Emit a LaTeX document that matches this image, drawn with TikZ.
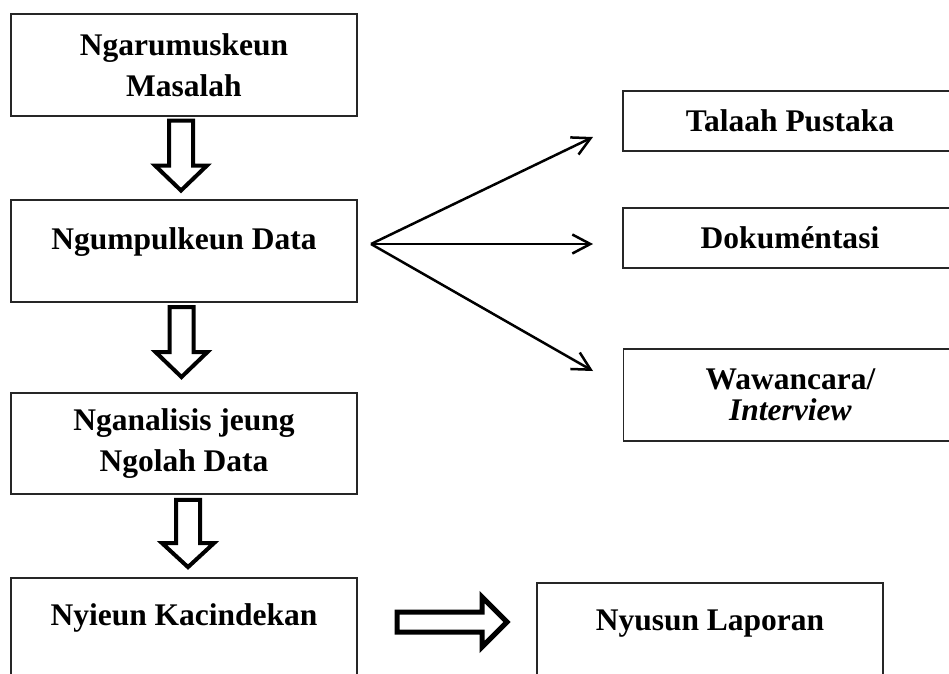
\documentclass[tikz,border=0pt]{standalone}
\usepackage{fontspec}
\setmainfont{Liberation Serif}
\usepackage{tikz}
\usetikzlibrary{arrows.meta}
\usetikzlibrary{calc}

\tikzset{
  kotak/.style={draw=black!85, line width=1.5pt, inner sep=0pt, align=center,
    minimum width=346pt, minimum height=102pt,
    font=\fontsize{31.5}{41}\selectfont\bfseries},
  kotakkatuhu/.style={kotak, minimum width=334pt, minimum height=60pt},
  panah/.style={black, line width=2.5pt, -{Straight Barb[length=18pt,width=19pt]}},
  kosong/.style={draw=black, fill=white, line width=4pt, line join=miter},
  turun/.pic={\draw[kosong] (-12,-35) -- (-12,10) -- (-26,10) -- (0,35) -- (26,10) -- (12,10) -- (12,-35) -- cycle;},
  katuhu/.pic={\draw[kosong, line width=5pt] (-55,-10) -- (30,-10) -- (30,-25) -- (55,0) -- (30,25) -- (30,10) -- (-55,10) -- cycle;}
}

\begin{document}
\begin{tikzpicture}[x=1pt,y=-1pt]
\useasboundingbox (0,0) rectangle (949,673);
\clip (0,0) rectangle (949,673);
%% lajur kenca
\node[kotak] (masalah) at (184,65) {Ngarumuskeun\\Masalah};
\node[kotak, text height=21pt, text depth=25pt] (data) at (184,251) {Ngumpulkeun Data};
\node[kotak, minimum height=101pt] (olah) at (184,443.5) {Nganalisis jeung\\Ngolah Data};
\node[kotak, text height=21pt, text depth=29pt] (kacindekan) at (184,629) {Nyieun Kacindekan};
\node[kotak, text height=21pt, text depth=29pt] (laporan) at (710,634) {Nyusun Laporan};
%% lajur katuhu
\node[kotakkatuhu] (pustaka) at (790,121) {Talaah Pustaka};
\node[kotakkatuhu] (dokumentasi) at (790,238) {Dokuméntasi};
\node[kotakkatuhu, minimum height=92pt, font=\fontsize{31.5}{31}\selectfont\bfseries] (wawancara) at (790.5,395) {Wawancara/\\\textit{Interview}};
%% panah kosong
\pic at (181,155.5) {turun};
\pic at (181.5,342) {turun};
\pic[yscale=0.96] at (188,533.5) {turun};
\pic at (452,622) {katuhu};
%% panah ti data
\coordinate (fan) at (371,244);
\coordinate (tpustaka) at (593,137);
\coordinate (tdokumentasi) at (593,244);
\coordinate (twawancara) at (593,371);
\draw[panah] (fan) -- (tpustaka);
\draw[panah] (fan) -- (tdokumentasi);
\draw[panah] (fan) -- (twawancara);
\end{tikzpicture}
\end{document}
